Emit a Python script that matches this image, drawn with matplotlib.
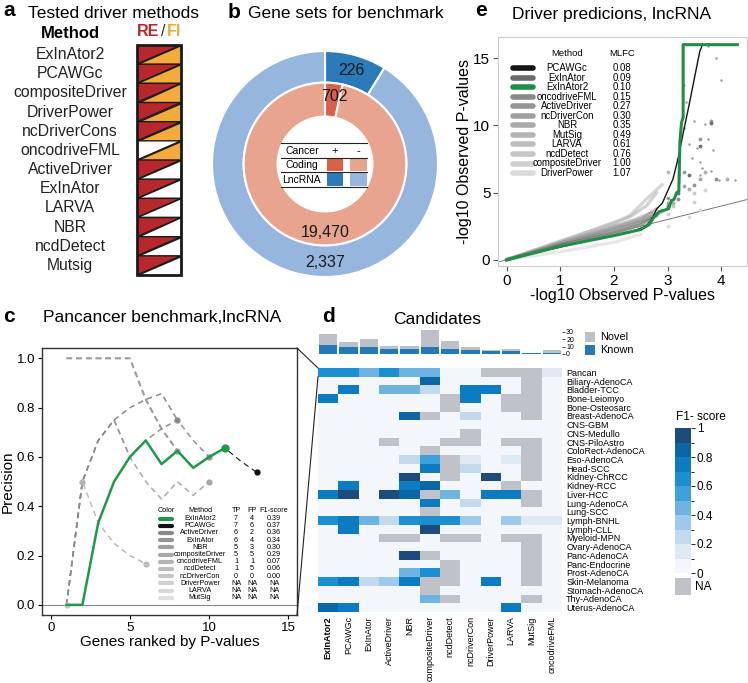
import numpy as np
import matplotlib
matplotlib.use("Agg")
import matplotlib.pyplot as plt
from matplotlib.patches import Polygon, Rectangle
from matplotlib.colors import ListedColormap, BoundaryNorm
from matplotlib.cm import ScalarMappable
from matplotlib.patches import ConnectionPatch

plt.rcParams['font.family'] = ['Liberation Sans', 'DejaVu Sans']
plt.rcParams['axes.unicode_minus'] = False
plt.rcParams['lines.scale_dashes'] = False

NA = np.nan

# ---------------- Panel a data ----------------
a_methods = ["ExInAtor2", "PCAWGc", "compositeDriver", "DriverPower", "ncDriverCons",
             "oncodriveFML", "ActiveDriver", "ExInAtor", "LARVA", "NBR", "ncdDetect", "Mutsig"]
a_re = [1, 1, 1, 1, 1, 0, 1, 1, 1, 1, 1, 1]
a_fi = [1, 1, 1, 1, 1, 1, 0, 0, 0, 0, 0, 0]

# ---------------- Panel b data ----------------
lnc_counts = [226, 2337]
coding_counts = [702, 19470]
lnc_text = ["226", "2,337"]
coding_text = ["702", "19,470"]

# ---------------- Panel c data ----------------
c_methods = ["ExInAtor2", "PCAWGc", "ActiveDriver", "ExInAtor", "NBR", "compositeDriver",
             "oncodriveFML", "ncdDetect", "ncDriverCon", "DriverPower", "LARVA", "MutSig"]
c_tp = ["7", "7", "6", "6", "5", "5", "1", "1", "0", "NA", "NA", "NA"]
c_fp = ["4", "6", "2", "4", "3", "5", "1", "5", "0", "NA", "NA", "NA"]
c_f1 = ["0.39", "0.37", "0.36", "0.34", "0.30", "0.29", "0.07", "0.06", "0.00", "NA", "NA", "NA"]
c_prec = {
    "PCAWGc": [1, 1, 1, 1, 1, 0.833, 0.714, 0.625, 0.556, 0.6, 0.636, 0.583, 0.538],
    "ActiveDriver": [0, 0.5, 0.667, 0.75, 0.8, 0.833, 0.857, 0.75],
    "ExInAtor": [0, 0.5, 0.667, 0.75, 0.6, 0.667, 0.714, 0.75, 0.667, 0.6],
    "NBR": [1, 1, 1, 1, 1, 0.833, 0.714, 0.625],
    "compositeDriver": [0, 0.5, 0.667, 0.75, 0.6, 0.5, 0.429, 0.5, 0.444, 0.5],
    "oncodriveFML": [0, 0.5],
    "ncdDetect": [0, 0.5, 0.333, 0.25, 0.2, 0.167],
    "ncDriverCon": [0],
    "ExInAtor2": [0, 0, 0.333, 0.5, 0.6, 0.667, 0.571, 0.625, 0.556, 0.6, 0.636],
}
c_colors = ['#1f9a4a', '#111111', '#8a8a8a', '#959595', '#a0a0a0', '#a9a9a9',
            '#b3b3b3', '#bcbcbc', '#c6c6c6', '#cfcfcf', '#d8d8d8', '#e0e0e0']

# ---------------- Panel d data ----------------
d_methods = ["ExInAtor2", "PCAWGc", "ExInAtor", "ActiveDriver", "NBR", "compositeDriver",
             "ncdDetect", "ncDriverCon", "DriverPower", "LARVA", "MutSig", "oncodriveFML"]
d_cancers = ["Pancan", "Biliary-AdenoCA", "Bladder-TCC", "Bone-Leiomyo", "Bone-Osteosarc",
             "Breast-AdenoCA", "CNS-GBM", "CNS-Medullo", "CNS-PiloAstro", "ColoRect-AdenoCA",
             "Eso-AdenoCA", "Head-SCC", "Kidney-ChRCC", "Kidney-RCC", "Liver-HCC",
             "Lung-AdenoCA", "Lung-SCC", "Lymph-BNHL", "Lymph-CLL", "Myeloid-MPN",
             "Ovary-AdenoCA", "Panc-AdenoCA", "Panc-Endocrine", "Prost-AdenoCA",
             "Skin-Melanoma", "Stomach-AdenoCA", "Thy-AdenoCA", "Uterus-AdenoCA"]
d_f1 = [
    [0.65, 0.65, 0.45, 0.65, 0.45, 0.45, 0, 0, NA, NA, NA, 0.15],
    [0, 0, 0, 0, 0, 0.85, 0, 0, 0, 0, NA, 0],
    [0, 0.75, 0, 0.45, 0.45, 0.25, 0, 0.75, 0.75, 0, NA, 0],
    [0.75, 0, 0, 0, 0, 0, NA, 0.75, 0, NA, NA, 0],
    [0, 0, 0, 0, 0, 0, NA, 0, 0, NA, NA, 0],
    [0, 0, 0, 0, 0.8, NA, 0, 0.25, 0, 0, NA, 0],
    [0, 0, 0, 0, 0, 0, 0, 0, 0, 0, 0, 0],
    [0, 0, 0, 0, 0, 0, 0, NA, 0, 0, 0, 0],
    [0, 0, 0, NA, 0, 0, NA, NA, 0, NA, NA, 0],
    [0, 0, 0, 0, 0, NA, 0, 0, 0, 0, NA, 0],
    [0, 0, 0, 0, 0.25, 0.6, NA, 0.15, 0, 0.15, NA, 0],
    [0, 0, 0, 0, 0, 0.75, NA, 0.25, 0, 0, NA, 0],
    [0, 0, 0, 0, 0.95, 0, NA, 0, 0.95, 0, NA, 0],
    [0, 0.75, 0, 0, 0.75, 0.85, 0, 0, 0, NA, 0, 0],
    [0.75, 0.95, 0, 0.95, 0.8, NA, 0.45, 0, 0.75, 0.75, NA, 0],
    [0, 0, 0, 0, 0, 0.75, 0, 0.25, 0, 0, NA, 0],
    [0, 0, 0, 0, 0, NA, 0, 0, 0, 0, 0, 0],
    [0.65, 0.75, 0.45, 0.25, 0.65, 0.65, 0.65, 0.35, 0, 0.35, 0.15, 0.15],
    [0, 0.75, 0, 0, 0, 0.95, 0, 0, 0, 0, 0, 0],
    [0, 0, 0, NA, NA, 0, NA, NA, 0, NA, NA, 0],
    [0, 0, 0, 0, 0, 0, 0, 0, 0, 0, NA, 0],
    [0, 0, 0, 0, 0.95, NA, 0, 0, 0, 0, NA, 0],
    [0, 0, 0, 0, 0, 0, NA, 0, 0, 0, NA, 0],
    [0, 0, 0, 0, 0.45, 0.65, NA, 0, 0, 0, NA, 0],
    [0.65, 0.75, 0.25, 0.35, 0.75, NA, NA, 0, 0.75, 0, NA, 0],
    [0, 0, 0, 0, 0, NA, 0, 0, 0, 0, 0, 0],
    [0, 0, 0, 0, 0, 0.45, NA, 0, 0, 0, NA, 0],
    [0.8, 0.75, 0, 0, 0, 0, 0, 0, 0, 0.75, 0, 0],
]
d_known = [12, 9, 9, 7, 7, 10, 7, 5, 4, 4, 1, 1]
d_novel = [15, 7, 11, 4, 4, 22, 10, 5, 2, 3, 0, 4]
cb_colors = ['#f3f6fa', '#dfe9f4', '#c3daee', '#9dcaea', '#6db4e1',
             '#3ea1dc', '#1c8fd2', '#0d7bc2', '#0b66a7', '#1b4c7c']
na_color = '#bfc2c9'

# ---------------- Panel e data ----------------
e_methods = ["PCAWGc", "ExInAtor", "ExInAtor2", "oncodriveFML", "ActiveDriver", "ncDriverCon",
             "NBR", "MutSig", "LARVA", "ncdDetect", "compositeDriver", "DriverPower"]
e_mlfc = ["0.08", "0.09", "0.10", "0.15", "0.27", "0.30", "0.35", "0.49", "0.61", "0.76", "1.00", "1.07"]
e_colors = ['#151515', '#6b6b6b', '#1e8f44', '#8a8a8a', '#959595', '#a0a0a0',
            '#aaaaaa', '#b4b4b4', '#bdbdbd', '#c6c6c6', '#d0d0d0', '#dadada']
e_x = {
    "PCAWGc": [0, 0.5, 1, 1.5, 2, 2.4, 2.6, 2.7, 2.8, 2.9, 3.0, 3.1, 3.2, 3.3, 3.4, 3.5, 3.6, 3.65],
    "ExInAtor": [0, 1, 2, 2.5, 2.8, 3.0, 3.2, 3.4, 3.6, 3.8],
    "ExInAtor2": [0, 0.5, 1, 1.5, 2, 2.5, 2.65, 2.75, 2.85, 2.95, 3.02, 3.07, 3.12, 3.17, 3.21, 3.23, 3.26, 3.29, 3.29, 4.3],
    "oncodriveFML": [0, 1, 2, 2.5, 2.9, 3.2, 3.5, 3.9],
    "ActiveDriver": [0, 1, 2, 2.5, 2.8, 3.0, 3.3, 3.6, 3.8],
    "ncDriverCon": [0, 1, 2, 2.4, 2.7, 3.0, 3.3, 3.6],
    "NBR": [0, 1, 2, 2.5, 2.8, 3.1, 3.4, 3.7, 4.1],
    "MutSig": [0, 1, 1.8, 2.3, 2.6, 2.8, 3.0, 3.2],
    "LARVA": [0, 1, 2, 2.3, 2.6, 2.9],
    "ncdDetect": [0, 1, 2, 2.5, 2.8, 3.1, 3.5],
    "compositeDriver": [0, 1, 2, 2.5, 3.0, 3.5, 3.7],
    "DriverPower": [0, 1, 2, 2.5, 3.0, 3.4, 3.6],
}
e_y = {
    "PCAWGc": [0, 0.5, 0.95, 1.4, 1.8, 2.2, 2.5, 3.0, 3.8, 4.2, 5.1, 6.0, 7.6, 9.6, 11.5, 13.5, 15.5, 16],
    "ExInAtor": [0, 1.1, 2.0, 2.6, 3.3, 4.0, 5.0, 6.3, 8.5, 10.2],
    "ExInAtor2": [0, 0.5, 1.0, 1.4, 1.8, 2.25, 2.6, 3.2, 3.6, 3.7, 3.8, 4.4, 4.5, 5.0, 5.1, 8.8, 10.2, 10.6, 16, 16],
    "oncodriveFML": [0, 1.15, 2.2, 2.8, 3.6, 4.5, 5.6, 6.0],
    "ActiveDriver": [0, 1.2, 2.4, 3.0, 3.8, 4.6, 6.5, 9.0, 10.3],
    "ncDriverCon": [0, 1.3, 2.5, 3.0, 3.5, 4.2, 5.5, 6.0],
    "NBR": [0, 1.25, 2.3, 2.9, 3.4, 4.2, 5.3, 6.5, 6.0],
    "MutSig": [0, 1.35, 2.5, 3.2, 4.0, 5.0, 6.5, 7.5],
    "LARVA": [0, 1.4, 2.7, 3.3, 4.5, 5.6],
    "ncdDetect": [0, 1.2, 2.2, 2.8, 3.3, 4.0, 5.0],
    "compositeDriver": [0, 1.0, 2.0, 2.6, 3.4, 4.3, 5.2],
    "DriverPower": [0, 0.6, 1.3, 1.9, 2.5, 3.2, 3.7],
}
e_dots_x = [3.3, 3.35, 3.4, 3.45, 3.5, 3.55, 3.6, 3.7, 3.75, 3.8, 3.95, 4.25, 3.9, 3.75, 4.0, 3.3, 3.6, 3.85, 3.5, 3.65]
e_dots_y = [9.8, 11.7, 8.6, 7.6, 10.3, 8.3, 6.3, 10.1, 9.0, 6.6, 5.9, 5.9, 15.0, 15.9, 13.4, 13.0, 7.3, 8.2, 5.6, 6.8]

# =====================================================================
W, H = 748, 683
fig = plt.figure(figsize=(W / 100, H / 100), dpi=100)


def add_ax(l, t, r, b, **kw):
    return fig.add_axes([l / W, 1 - b / H, (r - l) / W, (b - t) / H], **kw)


def ftext(x, y, s, **kw):
    kw.setdefault('va', 'center')
    return fig.text(x / W, 1 - y / H, s, **kw)


TITLE = 12.5
LETTER = 15

# ---------------- Panel a ----------------
ftext(3, 11, "a", fontsize=LETTER, fontweight='bold')
ftext(28, 14, "Tested driver methods", fontsize=TITLE)
ftext(70, 33, "Method", fontsize=12, fontweight='bold', ha='center')
ftext(137, 31, "RE", fontsize=11.5, fontweight='bold', color='#b8272c')
ftext(161, 31, "/", fontsize=11.5, color='#333333')
ftext(167, 31, "FI", fontsize=11.5, fontweight='bold', color='#f2a93b')

ax_a = add_ax(137, 45, 181, 275)
n_a = len(a_methods)
ax_a.set_xlim(0, 1)
ax_a.set_ylim(n_a, 0)
ax_a.axis('off')
for i, m in enumerate(a_methods):
    red = '#b8272c' if a_re[i] else 'white'
    org = '#f5aa3c' if a_fi[i] else 'white'
    ax_a.add_patch(Polygon([(0, i), (0, i + 1), (1, i)], closed=True, facecolor=red,
                           edgecolor='#1a1a1a', lw=1.0))
    ax_a.add_patch(Polygon([(1, i), (1, i + 1), (0, i + 1)], closed=True, facecolor=org,
                           edgecolor='#1a1a1a', lw=1.0))
    ax_a.text(-1.52, i + 0.5, m, ha='center', va='center', fontsize=11.3, clip_on=False,
              color='#222222')
ax_a.add_patch(Rectangle((0, 0), 1, n_a, fill=False, edgecolor='#1a1a1a', lw=2.0, clip_on=False))

# ---------------- Panel b ----------------
ftext(228, 12, "b", fontsize=LETTER, fontweight='bold')
ftext(248, 14, "Gene sets for benchmark", fontsize=TITLE)
ax_b = add_ax(212, 51, 438, 277)
lnc_cols = ['#2b7bba', '#97b6de']
cod_cols = ['#d9604b', '#e8a48e']
ax_b.pie(lnc_counts, radius=1.0, startangle=90, counterclock=False, colors=lnc_cols,
         wedgeprops=dict(width=0.28, edgecolor='white', linewidth=1.5))
ax_b.pie(coding_counts, radius=0.72, startangle=90, counterclock=False, colors=cod_cols,
         wedgeprops=dict(width=0.30, edgecolor='white', linewidth=1.5))
ax_b.set_xlim(-1.0, 1.0)
ax_b.set_ylim(-1.0, 1.0)
ax_b.set_aspect('equal')
ax_b.axis('off')
ang0 = np.deg2rad(90 - 360 * lnc_counts[0] / sum(lnc_counts) / 2)
ax_b.text(0.86 * np.cos(ang0), 0.86 * np.sin(ang0), lnc_text[0], ha='center', va='center',
          fontsize=11.5, color='#1a1a1a')
ang1 = np.deg2rad(90 - 360 * coding_counts[0] / sum(coding_counts) / 2)
ax_b.text(0.6 * np.cos(ang1) + 0.02, 0.6 * np.sin(ang1), coding_text[0], ha='center', va='center',
          fontsize=11.5, color='#1a1a1a')
ax_b.text(0.0, -0.61, coding_text[1], ha='center', va='center', fontsize=11.5, color='#1a1a1a')
ax_b.text(0.0, -0.87, lnc_text[1], ha='center', va='center', fontsize=11.5, color='#1a1a1a')
for yy in [0.186, 0.053, -0.071, -0.204]:
    ax_b.plot([-0.39, 0.37], [yy, yy], color='#222222', lw=0.8)
ax_b.text(-0.205, 0.118, "Cancer", ha='center', va='center', fontsize=7.5)
ax_b.text(0.088, 0.118, "+", ha='center', va='center', fontsize=8)
ax_b.text(0.292, 0.118, "-", ha='center', va='center', fontsize=8)
ax_b.text(-0.205, -0.009, "Coding", ha='center', va='center', fontsize=7.5)
ax_b.text(-0.205, -0.138, "LncRNA", ha='center', va='center', fontsize=7.5)
ax_b.add_patch(Rectangle((0.02, -0.066), 0.14, 0.114, color=cod_cols[0], lw=0))
ax_b.add_patch(Rectangle((0.22, -0.066), 0.15, 0.114, color=cod_cols[1], lw=0))
ax_b.add_patch(Rectangle((0.02, -0.199), 0.14, 0.123, color=lnc_cols[0], lw=0))
ax_b.add_patch(Rectangle((0.22, -0.199), 0.15, 0.123, color=lnc_cols[1], lw=0))

# ---------------- Panel e ----------------
ftext(475, 10, "e", fontsize=LETTER, fontweight='bold')
ftext(512, 14, "Driver predicions, lncRNA", fontsize=TITLE)
ax_e = add_ax(498, 37, 747, 266)
ax_e.set_xlim(-0.16, 4.48)
ax_e.set_ylim(-0.46, 16.57)
ax_e.axline((0, 0), slope=1, color='#777777', lw=0.7, zorder=1)
order = [m for m in reversed(e_methods) if m not in ("PCAWGc", "ExInAtor2")]
for m in order:
    i = e_methods.index(m)
    xs = np.array(e_x[m])
    ys = np.array(e_y[m])
    body = xs <= 2.9
    ax_e.plot(xs[body], ys[body], color=e_colors[i], lw=2.4, alpha=0.6,
              solid_capstyle='round', zorder=2)
    ax_e.plot(xs[~body], ys[~body], ls='none', marker='o', ms=1.8, color=e_colors[i],
              alpha=0.9, zorder=2)
ax_e.scatter(e_dots_x, e_dots_y, s=3, color='#9a9a9a', zorder=2, linewidths=0)
ax_e.plot(e_x["PCAWGc"], e_y["PCAWGc"], color=e_colors[0], lw=1.0, zorder=3)
ax_e.plot(e_x["ExInAtor2"], e_y["ExInAtor2"], color=e_colors[2], lw=2.2, zorder=4)
ax_e.set_xticks([0, 1, 2, 3, 4])
ax_e.set_yticks([0, 5, 10, 15])
ax_e.tick_params(labelsize=11, length=3.5, width=0.8, color='#555555', pad=2)
for s in ax_e.spines.values():
    s.set_color('#cccccc')
    s.set_linewidth(0.8)
ax_e.set_xlabel("-log10 Observed P-values", fontsize=11.5, labelpad=0)
ax_e.set_ylabel("-log10 Observed P-values", fontsize=11.5, labelpad=1)
ftext(567, 54, "Method", fontsize=6.8, ha='center')
ftext(622, 54, "MLFC", fontsize=6.8, ha='center')
for i, m in enumerate(e_methods):
    yy = 68 + 9.55 * i
    ax_e.plot([513 / W, 533 / W], [1 - yy / H, 1 - yy / H], transform=fig.transFigure,
              color=e_colors[i], lw=4, solid_capstyle='round', clip_on=False)
    ftext(567, yy, m, fontsize=6.9, ha='center')
    ftext(622, yy, e_mlfc[i], fontsize=6.9, ha='center')

# ---------------- Panel c ----------------
ftext(3, 316, "c", fontsize=LETTER, fontweight='bold')
ftext(43, 318, "Pancancer benchmark,lncRNA", fontsize=TITLE)
ax_c = add_ax(42, 348, 297, 615)
ax_c.set_xlim(-0.55, 15.55)
ax_c.set_ylim(-0.041, 1.042)
ax_c.axhline(0, color='#888888', lw=0.8, zorder=1)
draw_order = ["PCAWGc", "ncDriverCon", "ncdDetect", "oncodriveFML", "compositeDriver",
              "NBR", "ExInAtor", "ActiveDriver"]
for m in draw_order:
    ys = c_prec[m]
    xs = np.arange(1, len(ys) + 1)
    col = c_colors[c_methods.index(m)]
    lw = 1.1
    if m == "PCAWGc":
        lw = 0.8
    if m == "NBR":
        lw = 1.5
    ax_c.plot(xs, ys, color=col, lw=lw, ls=(0, (4, 3)), zorder=2)
    ax_c.plot(xs[-1:], ys[-1:], 'o', color=col, ms=3.5, zorder=3)
ys = c_prec["ExInAtor2"]
xs = np.arange(1, len(ys) + 1)
ax_c.plot(xs, ys, color=c_colors[0], lw=1.8, zorder=4)
ax_c.plot(xs[-1:], ys[-1:], 'o', color=c_colors[0], ms=5, zorder=5)
ax_c.set_xticks([0, 5, 10, 15])
ax_c.set_yticks([0, 0.2, 0.4, 0.6, 0.8, 1.0])
ax_c.set_yticklabels(["0.0", "0.2", "0.4", "0.6", "0.8", "1.0"])
ax_c.tick_params(labelsize=9.5, length=3, width=0.8, pad=2)
for s in ax_c.spines.values():
    s.set_color('#333333')
    s.set_linewidth(1.0)
ax_c.set_xlabel("Genes ranked by P-values", fontsize=11, labelpad=1)
ax_c.set_ylabel("Precision", fontsize=11, labelpad=1)
hdr_y = 510
for xx, s in zip([166, 200, 236, 252, 274], ["Color", "Method", "TP", "FP", "F1-score"]):
    ftext(xx, hdr_y, s, fontsize=5.2, ha='center')
for i, m in enumerate(c_methods):
    yy = 518.5 + 7.2 * i
    ax_c.plot([160 / W, 172 / W], [1 - yy / H, 1 - yy / H], transform=fig.transFigure,
              color=c_colors[i], lw=3, solid_capstyle='round', clip_on=False)
    ftext(200, yy, m, fontsize=5.2, ha='center')
    ftext(236, yy, c_tp[i], fontsize=5.2, ha='center')
    ftext(252, yy, c_fp[i], fontsize=5.2, ha='center')
    ftext(274, yy, c_f1[i], fontsize=5.2, ha='center')

# ---------------- Panel d ----------------
ftext(322, 317, "d", fontsize=LETTER, fontweight='bold')
ftext(437, 319, "Candidates", fontsize=TITLE, ha='center')
ax_h = add_ax(318, 368, 562, 612)
cmap = ListedColormap(cb_colors)
norm = BoundaryNorm(np.linspace(0, 1, 11), 10)
mat = np.ma.masked_invalid(np.array(d_f1, dtype=float))
ax_h.set_facecolor(na_color)
ax_h.imshow(mat, cmap=cmap, norm=norm, aspect='auto', interpolation='nearest')
ax_h.set_xticks(range(len(d_methods)))
ax_h.set_xticklabels(d_methods, rotation=90, fontsize=6.5)
ax_h.get_xticklabels()[0].set_fontweight('bold')
ax_h.set_yticks(range(len(d_cancers)))
ax_h.set_yticklabels(d_cancers, fontsize=6.5)
ax_h.yaxis.tick_right()
ax_h.tick_params(length=0, pad=3)
for s in ax_h.spines.values():
    s.set_visible(False)

ax_bar = add_ax(318, 329, 562, 354)
xb = np.arange(len(d_methods))
ax_bar.bar(xb, d_known, width=0.9, color='#2479b7')
ax_bar.bar(xb, d_novel, bottom=d_known, width=0.9, color='#bcc0c8')
ax_bar.set_xlim(-0.5, len(d_methods) - 0.5)
ax_bar.set_ylim(0, 34)
ax_bar.set_xticks([])
ax_bar.yaxis.tick_right()
ax_bar.set_yticks([0, 10, 20, 30])
ax_bar.tick_params(axis='y', labelsize=5, length=2, pad=1, width=0.5)
for s in ax_bar.spines.values():
    s.set_visible(False)

fig.patches.append(Rectangle((585 / W, 1 - 342 / H), 10 / W, 10 / H, transform=fig.transFigure,
                             color='#bcc0c8', lw=0))
fig.patches.append(Rectangle((585 / W, 1 - 355 / H), 10 / W, 10 / H, transform=fig.transFigure,
                             color='#2479b7', lw=0))
ftext(600, 337, "Novel", fontsize=7.8)
ftext(600, 350, "Known", fontsize=7.8)

ax_cb = add_ax(675, 428, 691, 573)
cb = fig.colorbar(ScalarMappable(norm=norm, cmap=cmap), cax=ax_cb, ticks=[0, 0.2, 0.4, 0.6, 0.8, 1.0])
cb.ax.set_yticklabels(["0", "0.2", "0.4", "0.6", "0.8", "1"])
cb.ax.tick_params(labelsize=8.5, length=3, width=0.6, pad=1)
cb.outline.set_visible(False)
ftext(676, 417, "F1- score", fontsize=8.5)
ax_na = add_ax(675, 578, 691, 595)
ax_na.set_facecolor(na_color)
ax_na.set_xticks([])
ax_na.set_yticks([])
for s in ax_na.spines.values():
    s.set_visible(False)
ftext(695, 587, "NA", fontsize=8.5)

for ya, yb in [(1, -0.5), (0, 0.5)]:
    con = ConnectionPatch(xyA=(1, ya), coordsA=ax_c.transAxes, xyB=(-0.5, yb), coordsB=ax_h.transData,
                          color='#222222', lw=0.8)
    fig.add_artist(con)

fig.savefig("out.png", dpi=100)
